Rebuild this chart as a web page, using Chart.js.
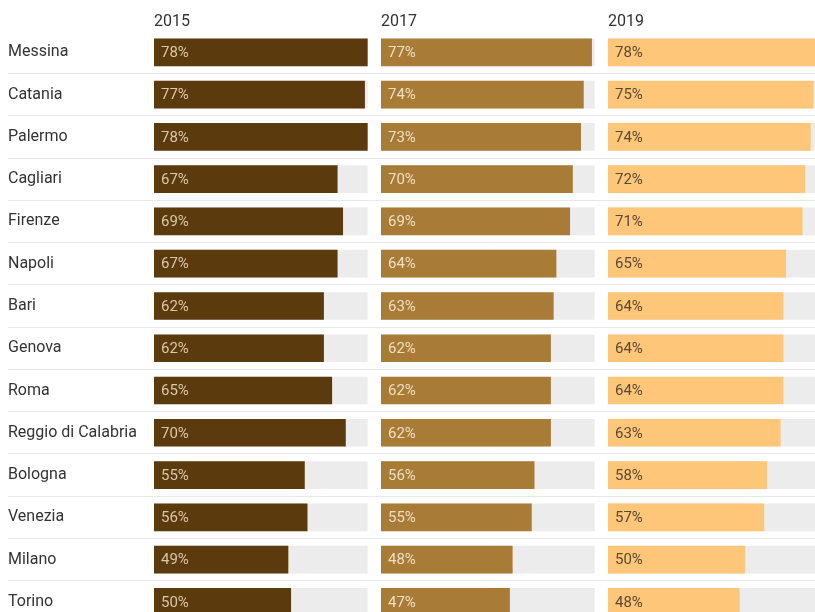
<!DOCTYPE html>
<html>
<head>
<meta charset="utf-8">
<script src="https://cdn.jsdelivr.net/npm/chart.js@4/dist/chart.umd.min.js"></script>
<style>
  html, body { margin: 0; padding: 0; background: #fff; overflow: hidden; }
  #turnoutChart { display: block; }
</style>
</head>
<body>
<canvas id="turnoutChart" width="835" height="623"></canvas>
<script>
const cities = ['Messina', 'Catania', 'Palermo', 'Cagliari', 'Firenze', 'Napoli', 'Bari', 'Genova',
  'Roma', 'Reggio di Calabria', 'Bologna', 'Venezia', 'Milano', 'Torino'];
const years = ['2015', '2017', '2019'];
const values2015 = [78, 77, 78, 67, 69, 67, 62, 62, 65, 70, 55, 56, 49, 50];
const values2017 = [77, 74, 73, 70, 69, 64, 63, 62, 62, 62, 56, 55, 48, 47];
const values2019 = [78, 75, 74, 72, 71, 65, 64, 64, 64, 63, 58, 57, 50, 48];

const series = [values2015, values2017, values2019];
const barColors  = ['#5b3a0e', '#a87b36', '#fdc679'];
const textColors = ['#dcc7a6', '#efdfc2', '#5a4935'];
const trackColor = '#ececec';
// grey track behind each bar runs to the highest value of the whole table
const trackMax = Math.max(...series.flat());
const panelMax = 83;

const datasets = [];
series.forEach((vals, i) => {
  const axis = 'x' + i;
  datasets.push({
    data: vals,
    xAxisID: axis,
    backgroundColor: barColors[i],
    order: 0,
    isValue: true,
    panel: i
  });
  datasets.push({
    data: cities.map(() => trackMax),
    xAxisID: axis,
    backgroundColor: trackColor,
    order: 1
  });
});

const scales = {
  y: {
    position: 'left',
    afterFit: scale => {
      scale.width = 146;
      // no extra room above/below for the first and last city label
      scale.paddingTop = 0;
      scale.paddingBottom = 0;
    },
    border: { display: false },
    grid: {
      offset: true,
      tickLength: 146,
      color: ctx => ctx.index === 0 ? 'rgba(0,0,0,0)' : '#e8e8e8',
      lineWidth: 1
    },
    ticks: {
      crossAlign: 'far',
      padding: 0,
      color: '#333',
      font: { family: 'Roboto', size: 16 }
    }
  }
};
years.forEach((yr, i) => {
  scales['x' + i] = {
    position: 'top',
    stack: 'years',
    stackWeight: 1,
    // top boxes are laid out in reverse, so the first year gets the largest weight
    weight: years.length - i,
    min: 0,
    max: panelMax,
    border: { display: false },
    grid: { display: false, drawTicks: false },
    ticks: { display: false },
    title: {
      display: true,
      text: yr,
      align: 'start',
      color: '#333',
      font: { family: 'Roboto', size: 16 },
      padding: { top: 12, bottom: 0 }
    }
  };
});

// percentage written inside the left end of each bar
const barLabels = {
  id: 'barLabels',
  afterDatasetsDraw(chart) {
    const ctx = chart.ctx;
    ctx.save();
    ctx.font = '15px Roboto';
    ctx.textAlign = 'left';
    ctx.textBaseline = 'middle';
    chart.data.datasets.forEach((ds, di) => {
      if (!ds.isValue) return;
      const meta = chart.getDatasetMeta(di);
      ctx.fillStyle = textColors[ds.panel];
      meta.data.forEach((bar, j) => {
        ctx.fillText(ds.data[j] + '%', bar.base + 7, bar.y + 1);
      });
    });
    ctx.restore();
  }
};

new Chart(document.getElementById('turnoutChart'), {
  type: 'bar',
  data: { labels: cities, datasets },
  options: {
    indexAxis: 'y',
    responsive: false,
    animation: false,
    grouped: false,
    barThickness: 27,
    layout: { padding: { left: 8, top: 0, right: 0, bottom: 0 } },
    scales,
    plugins: {
      legend: { display: false },
      tooltip: { enabled: false }
    }
  },
  plugins: [barLabels]
});
</script>
</body>
</html>
